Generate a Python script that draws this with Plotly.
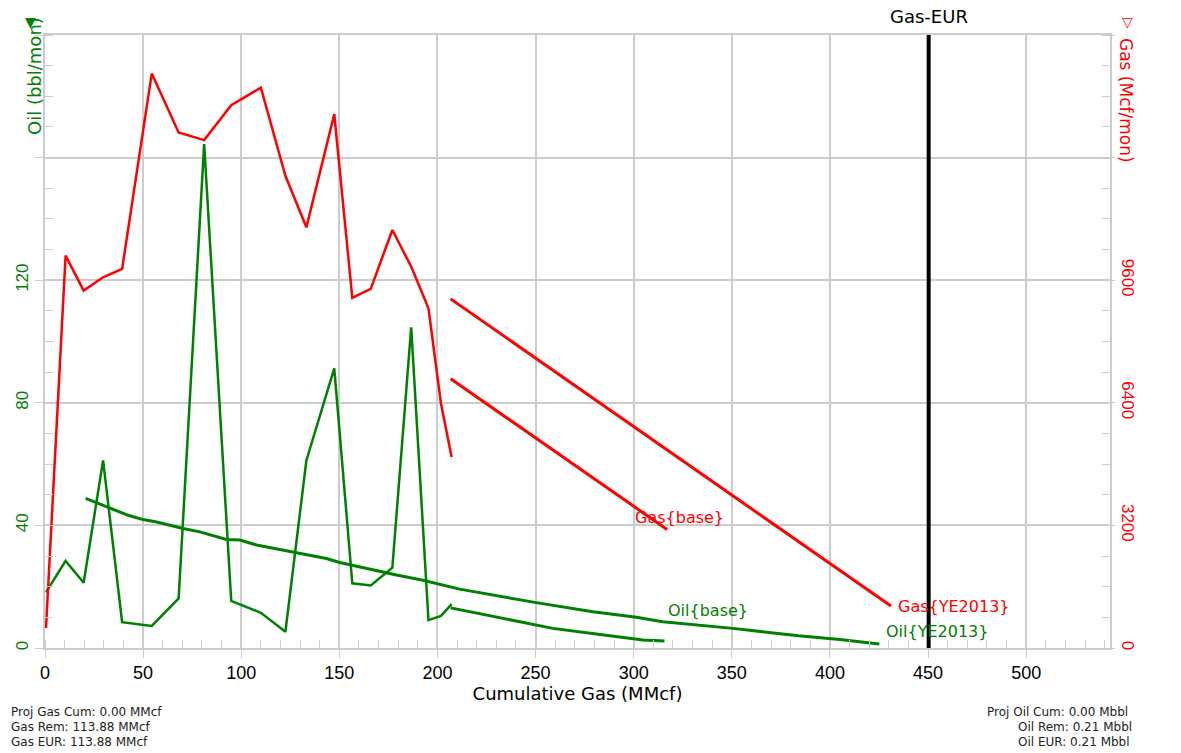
import plotly.graph_objects as go

# ---- history (cumulative gas in MMcf vs monthly rates) ----
hist_cum = [0.5, 10.5, 19.7, 29.6, 39.3, 54.4, 68.1, 81.1, 94.9, 110.0, 122.5, 133.2,
            147.4, 156.6, 166.0, 177.0, 186.6, 195.4, 201.8, 207.2]
gas_rate = [521, 10242, 9329, 9676, 9895, 14993, 13455, 13257, 14169, 14628, 12326, 10980,
            13935, 9139, 9374, 10911, 9955, 8868, 6377, 4985]
oil_rate = [18.2, 28.4, 21.3, 61.2, 8.4, 7.2, 16.2, 164.4, 15.4, 11.5, 5.3, 61.2,
            91.2, 21.1, 20.4, 26.2, 104.6, 9.1, 10.5, 14.3]

# ---- forecasts ----
gas_base_cum = [206.7, 317.0]
gas_base_rate = [7028, 3093]
gas_ye_cum = [206.7, 431.1]
gas_ye_rate = [9113, 1094]

oil_base_cum = [206.7, 230.0, 258.8, 280.9, 304.6, 315.7]
oil_base_rate = [13.1, 10.2, 6.4, 4.6, 2.6, 2.3]
oil_ye_cum = [20.7, 31.4, 42.4, 50.0, 56.9, 70.4, 78.9, 92.5, 99.3, 107.8, 121.4, 133.2,
              143.4, 150.2, 165.5, 179.1, 192.6, 201.1, 211.3, 250.3, 279.2, 301.3,
              314.8, 350.5, 384.0, 405.0, 425.2]
oil_ye_rate = [48.8, 46.0, 43.3, 41.9, 41.1, 39.0, 37.9, 35.4, 35.2, 33.6, 31.9, 30.3,
               29.2, 27.9, 25.6, 23.8, 22.1, 20.7, 19.2, 14.8, 11.8, 10.0,
               8.6, 6.4, 4.0, 2.8, 1.3]

gas_eur = 450.3

oil_ticks = [0, 40, 80, 120, 160, 200]
oil_ticktext = ["0", "40", "80", "120", "", ""]
gas_ticks = [0, 3200, 6400, 9600, 12800, 16000]
gas_ticktext = ["0", "3200", "6400", "9600", "", ""]
x_ticks = [0, 50, 100, 150, 200, 250, 300, 350, 400, 450, 500]

left_notes = ["Proj Gas Cum: 0.00 MMcf", "Gas Rem: 113.88 MMcf", "Gas EUR: 113.88 MMcf"]
right_notes = ["Proj Oil Cum: 0.00 Mbbl", "Oil Rem: 0.21 Mbbl", "Oil EUR: 0.21 Mbbl"]

RED = "#ff0000"
GREEN = "#008000"
GRID = "#cccccc"
FONT = "Liberation Sans, Arial, sans-serif"
WIDE = "DejaVu Sans, sans-serif"

# plot box in pixels
W, H = 1181, 753
L, R, T, B = 45, 1110, 35, 648


def px(xp):
    return (xp - L) / (R - L)


def py(yp):
    return (B - yp) / (B - T)


fig = go.Figure()

fig.add_trace(go.Scatter(x=hist_cum, y=oil_rate, mode="lines",
                         line=dict(color=GREEN, width=2.5), yaxis="y", name="Oil"))
fig.add_trace(go.Scatter(x=oil_ye_cum, y=oil_ye_rate, mode="lines",
                         line=dict(color=GREEN, width=3), yaxis="y", name="Oil{YE2013}"))
fig.add_trace(go.Scatter(x=oil_base_cum, y=oil_base_rate, mode="lines",
                         line=dict(color=GREEN, width=3), yaxis="y", name="Oil{base}"))
fig.add_trace(go.Scatter(x=hist_cum, y=gas_rate, mode="lines",
                         line=dict(color=RED, width=2.5), yaxis="y2", name="Gas"))
fig.add_trace(go.Scatter(x=gas_base_cum, y=gas_base_rate, mode="lines",
                         line=dict(color=RED, width=3), yaxis="y2", name="Gas{base}"))
fig.add_trace(go.Scatter(x=gas_ye_cum, y=gas_ye_rate, mode="lines",
                         line=dict(color=RED, width=3), yaxis="y2", name="Gas{YE2013}"))

# EUR marker line
fig.add_shape(type="line", xref="x", yref="paper", x0=gas_eur, x1=gas_eur, y0=0, y1=1,
              line=dict(color="black", width=4))

ann = []
ann.append(dict(text="Gas-EUR", xref="x", yref="paper", x=gas_eur, y=1, yanchor="bottom",
                yshift=6, showarrow=False, font=dict(size=18, color="black", family=WIDE)))

# curve labels
for txt, xv, yv, col in [("Gas{base}", 299.4, 42.7, RED), ("Gas{YE2013}", 433.6, 13.4, RED),
                         ("Oil{base}", 316.2, 12.1, GREEN), ("Oil{YE2013}", 427.7, 5.3, GREEN)]:
    ann.append(dict(text=txt, xref="x", yref="y", x=xv, y=yv, xanchor="left", yanchor="middle",
                    showarrow=False, font=dict(size=16, color=col, family=WIDE)))

# axis titles and markers
ann.append(dict(text="Oil (bbl/mon)", xref="paper", yref="paper", x=px(34), y=py(76),
                textangle=-90, showarrow=False, xanchor="center", yanchor="middle",
                font=dict(size=18, color=GREEN, family=WIDE)))
ann.append(dict(text="Gas (Mcf/mon)", xref="paper", yref="paper", x=px(1126), y=py(100),
                textangle=90, showarrow=False, xanchor="center", yanchor="middle",
                font=dict(size=17, color=RED, family=WIDE)))
ann.append(dict(text="▼", xref="paper", yref="paper", x=px(30), y=py(22), showarrow=False,
                xanchor="center", yanchor="middle", font=dict(size=14, color=GREEN, family="DejaVu Sans")))
ann.append(dict(text="▽", xref="paper", yref="paper", x=px(1127), y=py(22), showarrow=False,
                xanchor="center", yanchor="middle", font=dict(size=14, color=RED, family="DejaVu Sans")))

# summary notes
for i, t in enumerate(left_notes):
    ann.append(dict(text=t, xref="paper", yref="paper", x=px(9), y=py(712 + 15 * i),
                    xanchor="left", yanchor="middle", showarrow=False,
                    font=dict(size=12, color="#222222", family=WIDE)))
right_x = [985, 1016, 1016]
for i, t in enumerate(right_notes):
    ann.append(dict(text=t, xref="paper", yref="paper", x=px(right_x[i]), y=py(712 + 15 * i),
                    xanchor="left", yanchor="middle", showarrow=False,
                    font=dict(size=12, color="#222222", family=WIDE)))

fig.update_layout(
    width=W, height=H,
    margin=dict(l=L, r=W - R, t=T, b=H - B, pad=0),
    paper_bgcolor="white", plot_bgcolor="white",
    showlegend=False,
    annotations=ann,
    xaxis=dict(range=[0, 542.7], tickvals=x_ticks, showgrid=True, gridcolor=GRID, gridwidth=1.5,
               zeroline=False, showline=True, linecolor=GRID, linewidth=1.5, mirror=True,
               ticks="outside", ticklen=8, tickcolor=GRID,
               minor=dict(dtick=10, ticks="inside", ticklen=8, tickcolor=GRID, showgrid=False),
               tickfont=dict(size=18, color="black", family=FONT),
               title=dict(text="Cumulative Gas (MMcf)", standoff=2,
                          font=dict(size=18, color="black", family=WIDE))),
    yaxis=dict(range=[0, 200], tickvals=oil_ticks, ticktext=oil_ticktext, tickangle=-90,
               showgrid=True, gridcolor=GRID, gridwidth=1.5, zeroline=False,
               showline=True, linecolor=GRID, linewidth=1.5,
               ticks="outside", ticklen=8, tickcolor=GRID,
               minor=dict(dtick=10, ticks="inside", ticklen=8, tickcolor=GRID, showgrid=False),
               tickfont=dict(size=17, color=GREEN, family=FONT)),
    yaxis2=dict(range=[0, 16000], tickvals=gas_ticks, ticktext=gas_ticktext, tickangle=90,
                overlaying="y", side="right", showgrid=False, zeroline=False,
                showline=True, linecolor=GRID, linewidth=1.5,
                ticks="outside", ticklen=3, tickcolor=GRID,
                minor=dict(dtick=800, ticks="inside", ticklen=8, tickcolor=GRID, showgrid=False),
                tickfont=dict(size=17, color=RED, family=FONT)),
)

fig.write_html("out.html")
